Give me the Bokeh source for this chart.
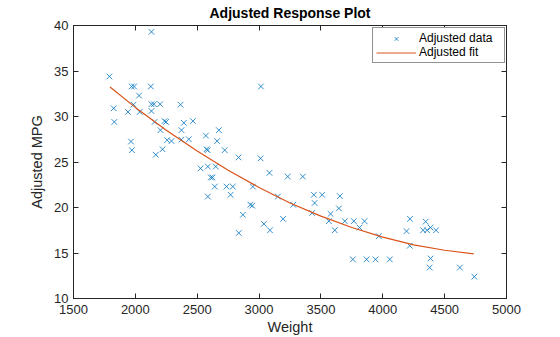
from bokeh.plotting import figure
from bokeh.models import (Range1d, LinearAxis, FixedTicker, Legend, LegendItem,
                          ColumnDataSource, CustomLabelingPolicy)
from bokeh.embed import file_html
from bokeh.resources import INLINE

# ---- data ----
weight = [2130, 1790, 1970, 1990, 2125, 2030, 3015, 1825, 1940, 2035,
          2130, 1985, 2130, 2150, 2200, 2365, 1830, 2155, 2236, 2248,
          2392, 2465, 2203, 2373, 2675, 2570, 1965, 2257, 2292, 2372,
          2432, 2661, 1972, 2220, 2575, 2584, 2722, 2165, 2834, 3012,
          2527, 2586, 2650, 3084, 3232, 3354, 2610, 2623, 2642, 2737,
          2788, 2950, 2586, 2770, 3152, 3443, 3510, 3653, 3276, 3449,
          2930, 2945, 3645, 3429, 3578, 2869, 3194, 3564, 3693, 3766,
          3852, 3812, 3039, 3088, 2836, 3612, 3968, 3758, 3869, 3941,
          4057, 4220, 4192, 4218, 4347, 4326, 4358, 4386, 4430, 4386,
          4379, 4623, 4740]
adj_mpg = [39.3, 34.4, 33.3, 33.3, 33.3, 32.3, 33.3, 30.9, 30.5, 30.5,
           30.6, 31.3, 31.35, 31.35, 31.35, 31.3, 29.4, 29.4, 29.5, 29.4,
           29.3, 29.5, 28.5, 28.5, 28.5, 27.9, 27.25, 27.4, 27.3, 27.45,
           27.5, 27.3, 26.3, 26.4, 26.4, 26.3, 26.3, 25.8, 25.5, 25.4,
           24.3, 24.5, 24.5, 23.8, 23.4, 23.4, 23.3, 23.3, 22.3, 22.3,
           22.3, 22.3, 21.2, 21.4, 21.2, 21.4, 21.4, 21.25, 20.3, 20.5,
           20.3, 20.2, 19.9, 19.4, 19.3, 19.2, 18.75, 18.5, 18.5, 18.5,
           18.5, 17.8, 18.2, 17.5, 17.2, 17.5, 16.85, 14.3, 14.3, 14.3,
           14.3, 18.75, 17.4, 15.8, 18.45, 17.5, 17.5, 17.8, 17.5, 14.4,
           13.4, 13.4, 12.4]

fit_weight = [1795, 2000, 2250, 2500, 2750, 3000, 3250, 3500, 3750, 4000, 4250, 4500, 4735]
fit_mpg = [33.25, 31.0, 28.5, 26.2, 24.1, 22.2, 20.5, 19.05, 17.8, 16.75, 15.9, 15.3, 14.9]

x_ticks = [1500, 2000, 2500, 3000, 3500, 4000, 4500, 5000]
y_ticks = [10, 15, 20, 25, 30, 35, 40]

title_text = "Adjusted Response Plot"
x_label = "Weight"
y_label = "Adjusted MPG"
legend_labels = ["Adjusted data", "Adjusted fit"]

FONT = "Liberation Sans"
AX = "#262626"

p = figure(width=560, height=337, output_backend="svg", toolbar_location=None,
           x_range=Range1d(1500, 5000), y_range=Range1d(10, 40),
           min_border_left=73, min_border_right=54, min_border_top=25, min_border_bottom=39,
           x_axis_label=x_label, y_axis_label=y_label)

p.title.text = title_text
p.title.align = "center"
p.title.text_font = FONT
p.title.text_font_size = "14px"
p.title.text_font_style = "bold"
p.title.text_color = "#000000"
p.title.standoff = 2

p.xgrid.visible = False
p.ygrid.visible = False
p.outline_line_color = AX
p.outline_line_alpha = 1
p.outline_line_width = 1
p.background_fill_color = "white"
p.border_fill_color = "white"

no_labels = CustomLabelingPolicy(code="""
try { for (const i of Array.from(indices)) { indices.unset(i) } } catch (e) {}
return indices
""")

def style_axis(ax, ticks, labels=True):
    ax.ticker = FixedTicker(ticks=ticks)
    ax.major_tick_in = 5
    ax.major_tick_out = 0
    ax.minor_tick_line_color = None
    ax.axis_line_color = AX
    ax.major_tick_line_color = AX
    ax.major_label_text_font = FONT
    ax.major_label_text_font_size = "13px"
    ax.major_label_text_color = AX
    ax.axis_label_text_font = FONT
    ax.axis_label_text_font_size = "14.5px"
    ax.axis_label_text_font_style = "normal"
    ax.axis_label_text_color = AX
    if not labels:
        ax.major_label_policy = no_labels
        ax.major_label_text_font_size = "1px"
        ax.major_label_standoff = 0

style_axis(p.xaxis[0], x_ticks)
style_axis(p.yaxis[0], y_ticks)
p.xaxis[0].major_label_standoff = 6
p.xaxis[0].axis_label_standoff = 2
p.yaxis[0].major_label_standoff = 5
p.yaxis[0].axis_label_standoff = 6

top_ax = LinearAxis()
style_axis(top_ax, x_ticks, labels=False)
p.add_layout(top_ax, "above")
right_ax = LinearAxis()
style_axis(right_ax, y_ticks, labels=False)
p.add_layout(right_ax, "right")

src = ColumnDataSource(dict(w=weight, m=adj_mpg))
r_pts = p.scatter("w", "m", source=src, marker="x", size=8,
                  line_color="#0072BD", line_width=0.8)
r_fit = p.line(fit_weight, fit_mpg, line_color="#D95319", line_width=1.2)

legend = Legend(items=[LegendItem(label=legend_labels[0], renderers=[r_pts]),
                       LegendItem(label=legend_labels[1], renderers=[r_fit])],
                location=(299, 235))
legend.label_text_font = FONT
legend.label_text_font_size = "12px"
legend.label_text_color = "#000000"
legend.label_height = 13
legend.label_width = 82
legend.glyph_height = 13
legend.glyph_width = 40
legend.label_standoff = 3
legend.spacing = 0
legend.padding = 3
legend.margin = 0
legend.border_line_color = AX
legend.border_line_width = 1
legend.background_fill_color = "white"
legend.background_fill_alpha = 1
p.add_layout(legend)

open("out.html", "w").write(file_html(p, INLINE))
